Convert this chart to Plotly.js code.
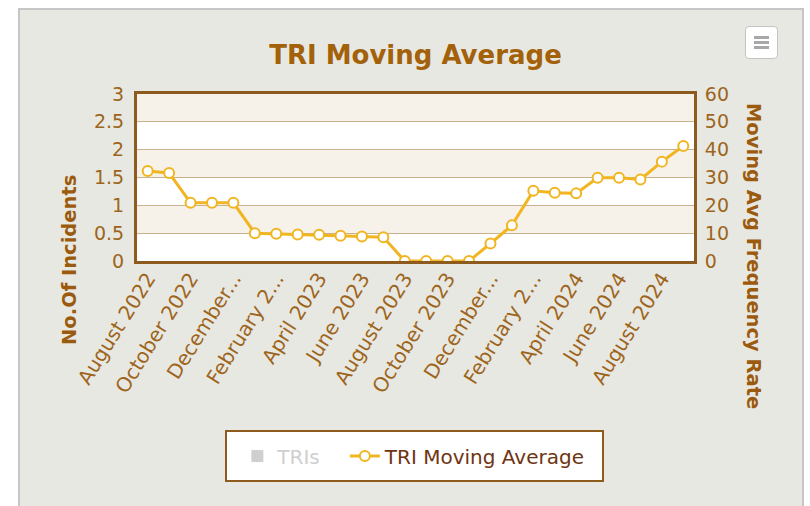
<!DOCTYPE html>
<html>
<head>
<meta charset="utf-8">
<script src="https://cdn.plot.ly/plotly-3.0.1.min.js"></script>
<style>
  html, body { margin: 0; padding: 0; background: #ffffff; width: 810px; height: 506px; overflow: hidden; }
  #frame { position: absolute; left: 18px; top: 8px; width: 782px; height: 510px;
           border: 2px solid #c6c6c6; border-bottom: none; background: #e8e8e2; }
  #chart { position: absolute; left: 0; top: 0; width: 782px; height: 498px; }
  #menu { position: absolute; left: 725px; top: 16px; width: 33px; height: 33px; background: #fff;
          border: 1px solid #c4c4c4; border-radius: 4px; box-sizing: border-box; }
  #menu div { position: absolute; left: 8px; width: 15px; height: 3px; background: #a8a8a8; }
</style>
</head>
<body>
<div id="frame">
  <div id="chart"></div>
  <div id="menu"><div style="top:9px"></div><div style="top:14px"></div><div style="top:19px"></div></div>
</div>
<script>
// ---- data ----
const months = [
  'August 2022','September 2022','October 2022','November 2022','December 2022','January 2023',
  'February 2023','March 2023','April 2023','May 2023','June 2023','July 2023',
  'August 2023','September 2023','October 2023','November 2023','December 2023','January 2024',
  'February 2024','March 2024','April 2024','May 2024','June 2024','July 2024',
  'August 2024','September 2024'
];
const movingAvg = [32.3, 31.6, 20.9, 20.9, 20.9, 10.0, 9.8, 9.5, 9.4, 9.1, 8.8, 8.5,
                   0, 0, 0, 0, 6.3, 12.8, 25.2, 24.5, 24.3, 29.9, 29.9, 29.3, 35.7, 41.3];
// TRIs series is hidden in the reference (legend item greyed out); its values cannot be read
const triMonths = ['August 2022'];
const triCounts = [null];
const tickMonths = ['August 2022','October 2022','December 2022','February 2023','April 2023',
                    'June 2023','August 2023','October 2023','December 2023','February 2024',
                    'April 2024','June 2024','August 2024'];
const tickLabels = ['August 2022','October 2022','December...','February 2...','April 2023',
                    'June 2023','August 2023','October 2023','December...','February 2...',
                    'April 2024','June 2024','August 2024'];
const leftTicks = [0, 0.5, 1, 1.5, 2, 2.5, 3];
const rightTicks = [0, 10, 20, 30, 40, 50, 60];

// ---- style ----
const brown = '#8d5b1d';
const tickColor = '#9d651c';
const gold = '#f1b521';
const font = 'DejaVu Sans, Verdana, sans-serif';

const shapes = [];
// alternating bands between left-axis ticks
for (let i = 0; i < leftTicks.length - 1; i++) {
  if (i % 2 === 1) {
    shapes.push({type: 'rect', xref: 'paper', yref: 'y', x0: 0, x1: 1,
                 y0: leftTicks[i], y1: leftTicks[i + 1],
                 fillcolor: '#f6f2ea', line: {width: 0}, layer: 'below'});
  }
}
// legend frame
shapes.push({type: 'rect', xref: 'paper', yref: 'paper', x0: 0.1598, x1: 0.8366,
             y0: -1.317, y1: -1.018, fillcolor: '#ffffff',
             line: {color: brown, width: 2}, layer: 'below'});

const traces = [
  {
    type: 'bar', name: '<span style="color:#a0a0a0">TRIs</span>&nbsp;&nbsp;&nbsp;',
    x: triMonths, y: triCounts,
    marker: {color: '#a0a0a0'}, visible: 'legendonly', yaxis: 'y'
  },
  {
    type: 'scatter', mode: 'lines+markers', name: 'TRI Moving Average',
    x: months, y: movingAvg, yaxis: 'y2',
    line: {color: gold, width: 3},
    marker: {symbol: 'circle', size: 10, color: '#ffffff', line: {color: gold, width: 2}}
  }
];

const layout = {
  width: 782, height: 498,
  margin: {l: 117, r: 108, t: 84, b: 247},
  paper_bgcolor: '#e8e8e2',
  plot_bgcolor: '#ffffff',
  font: {family: font, color: tickColor},
  showlegend: true,
  title: {text: 'TRI Moving Average', x: 0.5, xref: 'paper', xanchor: 'center',
          y: 1 - 45 / 498, yref: 'container', yanchor: 'middle',
          font: {family: font, size: 26, weight: 'bold', color: '#a3610a'}},
  xaxis: {
    type: 'category', categoryorder: 'array', categoryarray: months,
    tickmode: 'array', tickvals: tickMonths, ticktext: tickLabels,
    tickangle: -58, tickfont: {family: font, size: 20, color: tickColor},
    showgrid: false, zeroline: false, showline: true, mirror: true,
    linecolor: brown, linewidth: 3, ticks: '', range: [-0.5, months.length - 0.5],
    ticklabelstandoff: -5
  },
  yaxis: {
    range: [0, 3], tickmode: 'array', tickvals: leftTicks, ticktext: leftTicks.map(String),
    tickfont: {family: font, size: 19, color: tickColor},
    showgrid: true, gridcolor: '#c9b18d', gridwidth: 1, zeroline: false,
    showline: true, mirror: true, linecolor: brown, linewidth: 3, ticks: '',
    ticklabelstandoff: 6
  },
  yaxis2: {
    overlaying: 'y', side: 'right', range: [0, 60], tickmode: 'array',
    tickvals: rightTicks, ticktext: rightTicks.map(String),
    tickfont: {family: font, size: 19, color: tickColor},
    showgrid: false, zeroline: false, showline: true, linecolor: brown, linewidth: 3,
    ticks: '', ticklabelstandoff: 4
  },
  legend: {
    orientation: 'h', x: 0.497, xanchor: 'center', y: -1.168, yanchor: 'middle',
    bgcolor: 'rgba(0,0,0,0)', borderwidth: 0,
    font: {family: font, size: 20, color: '#6f3412'}
  },
  shapes: shapes,
  annotations: [
    {text: 'No.Of Incidents', xref: 'paper', yref: 'paper', x: -0.1203, y: 0.006,
     xanchor: 'center', yanchor: 'middle', textangle: -90, showarrow: false,
     font: {family: font, size: 19.5, weight: 'bold', color: '#9b5b0f'}},
    {text: 'Moving Avg Frequency Rate', xref: 'paper', yref: 'paper', x: 1.106, y: 0.03,
     xanchor: 'center', yanchor: 'middle', textangle: 90, showarrow: false,
     font: {family: font, size: 19.5, weight: 'bold', color: '#9b5b0f'}}
  ]
};

Plotly.newPlot('chart', traces, layout, {displayModeBar: false, responsive: false});
</script>
</body>
</html>
